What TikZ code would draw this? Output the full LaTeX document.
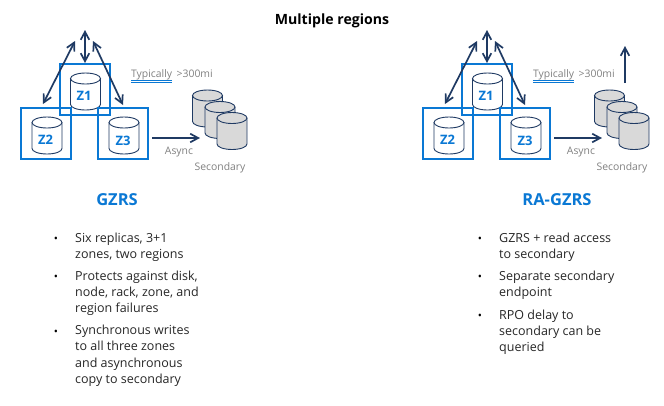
\documentclass[tikz,border=0pt]{standalone}
\usepackage{fontspec}
\setmainfont{Open Sans}
\usepackage{xcolor}
\usetikzlibrary{arrows.meta}
\definecolor{zoneblue}{HTML}{0A78D4}
\definecolor{navy}{HTML}{1F3A63}
\definecolor{softgrey}{HTML}{808080}
\definecolor{diskgrey}{HTML}{D9D9D9}

\begin{document}
\begin{tikzpicture}[
        x=1pt, y=-1pt,
        >={Straight Barb[length=2.8mm, width=3mm]},
        zonebox/.style={rectangle, draw=zoneblue, line width=2pt, minimum width=50pt, minimum height=51pt, inner sep=0pt},
        diskline/.style={draw=navy, line width=0.9pt},
        disk/.pic={
            \path[diskline, fill=#1] (-15,-13) -- (-15,13)
                arc[start angle=180, end angle=360, x radius=15pt, y radius=5.5pt]
                -- (15,-13);
            \path[diskline, fill=#1] (0,-13) circle[x radius=15pt, y radius=5.5pt];
        },
        zonelabel/.style={font=\fontsize{13}{15}\selectfont\bfseries, text=zoneblue, inner sep=0pt},
        link/.style={<->, draw=navy, line width=1.7pt},
        flow/.style={->, draw=navy, line width=1.7pt},
        note/.style={font=\fontsize{10.4}{12}\selectfont, text=softgrey, inner sep=0pt},
        heading/.style={font=\fontsize{16.5}{18}\selectfont\bfseries, text=zoneblue, inner sep=0pt},
        dot/.style={font=\fontsize{11}{16}\selectfont, inner sep=0pt},
        item/.style={font=\fontsize{12.5}{16.2}\selectfont, align=left, anchor=north west, inner sep=0pt, text=black!85}
    ]
    \useasboundingbox (0,0) rectangle (664,405);

    \node[font=\fontsize{14.1}{16}\selectfont\bfseries, inner sep=0pt] (title) at (332,21) {Multiple regions};

    % -- Both storage layouts --
    \foreach \pre/\dx in {g/0, r/402} {
        % Zones :
        \node[zonebox] (\pre box1) at (85+\dx,89.5)  {};
        \pic (\pre z1) at (85.5+\dx,91.5) {disk=white};
        \node[zonebox] (\pre box2) at (46+\dx,133.5)   {};
        \node[zonebox] (\pre box3) at (123+\dx,133.5)  {};
        \pic (\pre z2) at (47+\dx,135.5) {disk=white};
        \pic (\pre z3) at (124+\dx,135.5) {disk=white};
        \node[zonelabel] (\pre lab1) at (84+\dx,96)  {Z1};
        \node[zonelabel] (\pre lab2) at (45.5+\dx,140) {Z2};
        \node[zonelabel] (\pre lab3) at (123+\dx,141)  {Z3};

        % Replication between zones :
        \coordinate (\pre top)   at (85+\dx,30);
        \coordinate (\pre left)  at (75+\dx,41);
        \coordinate (\pre right) at (93+\dx,41);
        \draw[link] (\pre top) -- (\pre box1.north);
        \draw[link] (\pre left) -- ([xshift=-3pt,yshift=3pt]\pre box2.north);
        \draw[link] (\pre right) -- ([yshift=2pt]\pre box3.north);

        % Secondary region :
        \pic (\pre s1) at (207.5+\dx,108.5) {disk=diskgrey};
        \pic (\pre s2) at (220+\dx,120)     {disk=diskgrey};
        \pic (\pre s3) at (232+\dx,131)     {disk=diskgrey};
        \coordinate (\pre in) at (200+\dx,138);
        \coordinate (\pre out) at (152+\dx,138);
        \draw[flow] (\pre out) -- (\pre in);

        \node[note] (\pre async) at (179+\dx,152)  {Async};
        \node[note] (\pre sec) at (220+\dx,168)    {Secondary};
        \node[note, anchor=west] (\pre dist) at (131+\dx,74.5) {Typically \,>300mi};
        \draw[zoneblue, line width=0.7pt] (131+\dx,80) -- (172+\dx,80);
        \draw[zoneblue, line width=0.7pt] (131+\dx,82) -- (172+\dx,82);
    }

    % Read access on the secondary :
    \coordinate (rread) at (625,46);
    \coordinate (rreadfoot) at (625,83);
    \draw[flow] (rreadfoot) -- (rread);

    % -- Left column --
    \node[heading] (gzrs) at (117,200) {GZRS};
    \node[dot] (gd1) at (56,240) {•};
    \node[dot] (gd2) at (56,278) {•};
    \node[dot] (gd3) at (56,333) {•};
    \node[item] (gi1) at (75,232.5) {Six replicas, 3+1\\zones, two regions};
    \node[item] (gi2) at (75,270.5) {Protects against disk,\\node, rack, zone, and\\region failures};
    \node[item] (gi3) at (75,325) {Synchronous writes\\to all three zones\\and asynchronous\\copy to secondary};

    % -- Right column --
    \node[heading] (ragzrs) at (557,200) {RA-GZRS};
    \node[dot] (rd1) at (480,240) {•};
    \node[dot] (rd2) at (480,278) {•};
    \node[dot] (rd3) at (480,317) {•};
    \node[item] (ri1) at (499,232.5) {GZRS + read access\\to secondary};
    \node[item] (ri2) at (499,270.5) {Separate secondary\\endpoint};
    \node[item] (ri3) at (499,309.5) {RPO delay to\\secondary can be\\queried};
\end{tikzpicture}
\end{document}
